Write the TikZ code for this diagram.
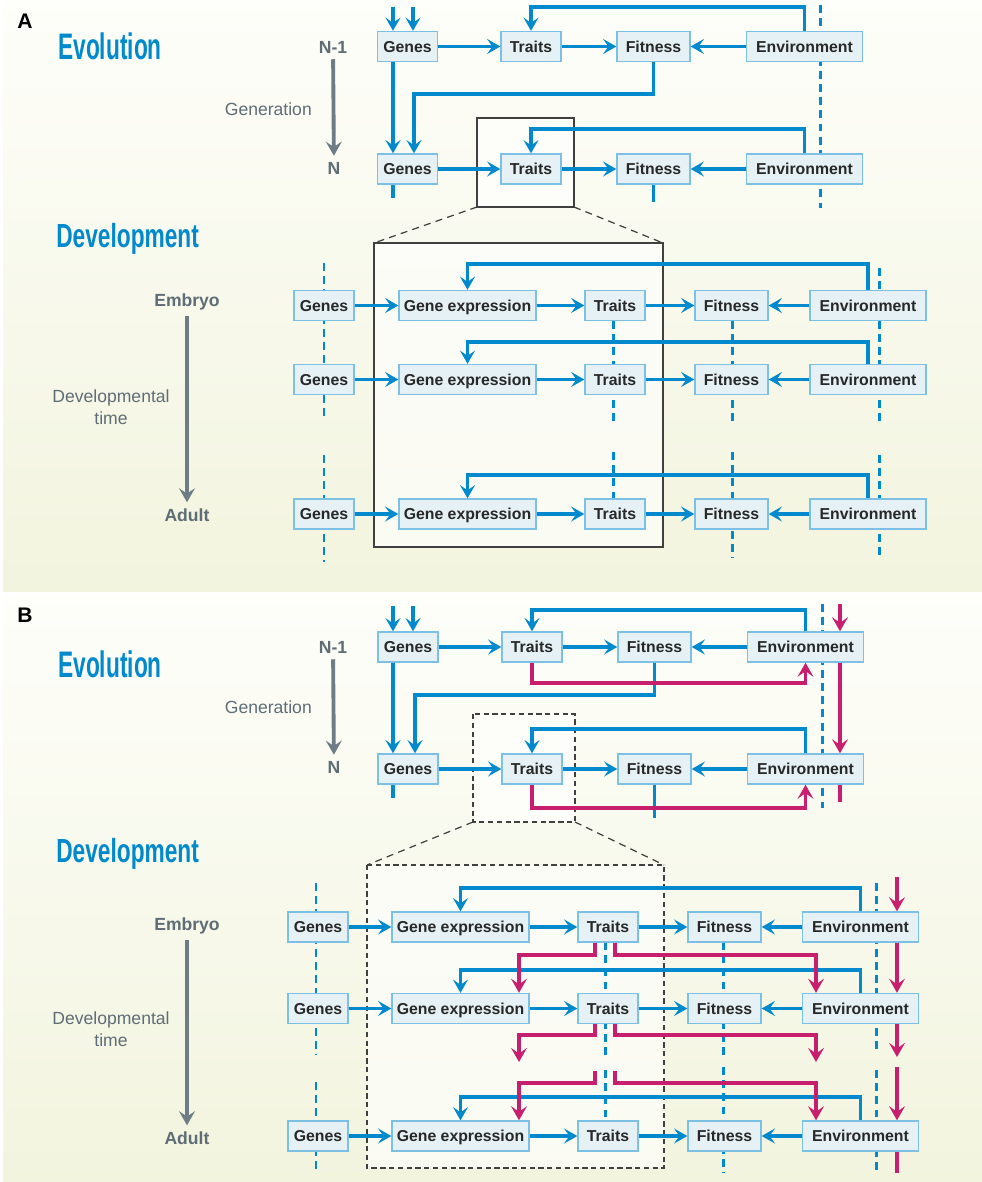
\documentclass[tikz,border=0pt]{standalone}
\usepackage{fontspec}
\setmainfont{Liberation Sans}
\usetikzlibrary{arrows.meta}

\definecolor{flowblue}{RGB}{0,137,204}
\definecolor{boxfill}{RGB}{229,241,244}
\definecolor{boxedge}{RGB}{125,192,230}
\definecolor{boxtext}{RGB}{40,40,40}
\definecolor{plasticred}{RGB}{200,30,110}
\definecolor{timegray}{RGB}{110,124,133}
\definecolor{labelgray}{RGB}{95,109,118}
\definecolor{bgtop}{RGB}{254,254,250}
\definecolor{bgbottom}{RGB}{242,244,222}

\tikzset{box/.style={draw=boxedge,fill=boxfill,line width=0.8pt,font=\bfseries\fontsize{9}{11}\selectfont,text=boxtext,minimum height=0.6cm,inner sep=0pt,text height=6.5pt,text depth=0pt},
genes/.style={box,minimum width=1.2cm},
traits/.style={box,minimum width=1.2cm},
fitness/.style={box,minimum width=1.46cm},
environment/.style={box,minimum width=2.32cm},
expression/.style={box,minimum width=2.74cm},
link/.style={draw=flowblue,line width=1.8pt},
flow/.style={link,-{Stealth[length=7.5pt,width=8.5pt,inset=3pt]}},
lineage/.style={draw=flowblue,line width=1.7pt,dash pattern=on 4.5pt off 3pt},
plastic link/.style={draw=plasticred,line width=1.8pt},
plastic/.style={plastic link,-{Stealth[length=8pt,width=9pt,inset=3.2pt]}},
time arrow/.style={draw=timegray,line width=2.2pt,-{Stealth[length=8pt,width=9pt,inset=3pt]}},
panel letter/.style={font=\bfseries\fontsize{12}{14}\selectfont,inner sep=0pt},
evo title/.style={font=\bfseries\fontsize{21}{24}\selectfont,text=flowblue,anchor=base west,inner sep=0pt},
dev title/.style={font=\bfseries\fontsize{19}{22}\selectfont,text=flowblue,anchor=base west,inner sep=0pt},
axis label/.style={font=\bfseries\fontsize{10}{12}\selectfont,text=labelgray},
axis name/.style={font=\fontsize{10}{12.5}\selectfont,text=labelgray,align=center},
zoom frame/.style={draw=black!75,line width=0.7pt,fill=white,fill opacity=0.6},
zoom ray/.style={draw=black!75,line width=0.7pt,dash pattern=on 4pt off 3pt}}

\begin{document}
\begin{tikzpicture}[x=0.02cm,y=-0.02cm]
\useasboundingbox (0,0) rectangle (982,1182);

%% panel backgrounds
\shade[top color=bgtop,bottom color=bgbottom] (3,0) rectangle (982,591);
\shade[top color=bgtop,bottom color=bgbottom] (3,595) rectangle (982,1182);

%% zoom frames
\path[zoom frame] (477,118) rectangle (574,207);
\path[zoom frame] (374,243) rectangle (663,547);
\draw[zoom ray] (477,207) -- (374,243);
\draw[zoom ray] (574,207) -- (663,243);
\path[zoom frame,dash pattern=on 3pt off 2pt] (473,714) rectangle (575,822);
\path[zoom frame,dash pattern=on 3pt off 2pt] (367,865) rectangle (664,1168);
\draw[zoom ray] (473,822) -- (367,865);
\draw[zoom ray] (575,822) -- (664,865);

%% ---------------- A ----------------
\node[panel letter] (letA) at (25,21) {A};
\node[evo title] (evoA) at (58,60) {\scalebox{0.615}[1]{Evolution}};
\node[dev title] (devA) at (56,248) {\scalebox{0.68}[1]{Development}};
\node[axis label] (prevA) at (333,47) {N-1};
\node[axis label] (genNA) at (334,168) {N};
\node[axis name,anchor=east] (genlabA) at (318,109) {Generation};
\draw[time arrow] (prevA) -- (genNA);
\node[axis label] (embA) at (187,302) {Embryo};
\node[axis label] (adA) at (187,515) {Adult};
\node[axis name] (dtA) at (111,407) {Developmental\\time};
\draw[time arrow] (embA) -- (adA);

%% coordinates (A, evolution)
\coordinate (inLA) at (393,7);
\coordinate (inRA) at (413,7);
\coordinate (topA1) at (0,7);
\coordinate (topA2) at (0,129);
\coordinate (backA) at (414,94);
\coordinate (stubgA) at (393,198);
\coordinate (stubfA) at (0,202);
\coordinate (envlnA1) at (820,5);
\coordinate (envlnA2) at (820,208);

%% coordinates (A, development)
\coordinate (topD1) at (0,264);
\coordinate (topD2) at (0,342);
\coordinate (topD3) at (0,475);

%% lineage lines
\draw[lineage] (envlnA1) -- (envlnA2);
\draw[lineage] (324,263) -- (324,417);
\draw[lineage] (324,455) -- (324,562);
\draw[lineage] (613,321) -- (613,423);
\draw[lineage] (613,452) -- (613,498);
\draw[lineage] (732,321) -- (732,423);
\draw[lineage] (732,452) -- (732,558);
\draw[lineage] (879,268) -- (879,423);
\draw[lineage] (879,455) -- (879,560);

%% boxes (A, evolution)
\node[genes] (gA1) at (407.5,46.5) {Genes};
\node[traits] (tA1) at (531,46.5) {Traits};
\node[fitness] (fA1) at (653.5,46.5) {Fitness};
\node[environment] (eA1) at (804.5,46.5) {Environment};
\node[genes] (gA2) at (407.5,169) {Genes};
\node[traits] (tA2) at (531,169) {Traits};
\node[fitness] (fA2) at (653.5,169) {Fitness};
\node[environment] (eA2) at (804.5,169) {Environment};

%% boxes (A, development)
\node[genes] (gD1) at (324,305.5) {Genes};
\node[expression] (xD1) at (467.5,305.5) {Gene expression};
\node[traits] (tD1) at (615,305.5) {Traits};
\node[fitness] (fD1) at (731.5,305.5) {Fitness};
\node[environment] (eD1) at (868,305.5) {Environment};
\node[genes] (gD2) at (324,379.5) {Genes};
\node[expression] (xD2) at (467.5,379.5) {Gene expression};
\node[traits] (tD2) at (615,379.5) {Traits};
\node[fitness] (fD2) at (731.5,379.5) {Fitness};
\node[environment] (eD2) at (868,379.5) {Environment};
\node[genes] (gD3) at (324,514) {Genes};
\node[expression] (xD3) at (467.5,514) {Gene expression};
\node[traits] (tD3) at (615,514) {Traits};
\node[fitness] (fD3) at (731.5,514) {Fitness};
\node[environment] (eD3) at (868,514) {Environment};

%% arrows (A, evolution)
\draw[flow] (inLA) -- (inLA |- gA1.north);
\draw[flow] (inRA) -- (inRA |- gA1.north);
\draw[flow] (gA1) -- (tA1);
\draw[flow] (tA1) -- (fA1);
\draw[flow] (eA1) -- (fA1);
\draw[flow] (eA1.north) |- (tA1.north |- topA1) -- (tA1.north);
\draw[flow] (fA1.south) |- (backA) -- (backA |- gA2.north);
\draw[flow] (gA1.south -| inLA) -- (inLA |- gA2.north);
\draw[flow] (gA2) -- (tA2);
\draw[flow] (tA2) -- (fA2);
\draw[flow] (eA2) -- (fA2);
\draw[flow] (eA2.north) |- (tA2.north |- topA2) -- (tA2.north);
\draw[link] (gA2.south -| stubgA) -- (stubgA);
\draw[link] (fA2.south) -- (fA2.south |- stubfA);

%% arrows (A, development)
\draw[flow] (gD1) -- (xD1);
\draw[flow] (xD1) -- (tD1);
\draw[flow] (tD1) -- (fD1);
\draw[flow] (eD1) -- (fD1);
\draw[flow] (eD1.north) |- (xD1.north |- topD1) -- (xD1.north);
\draw[flow] (gD2) -- (xD2);
\draw[flow] (xD2) -- (tD2);
\draw[flow] (tD2) -- (fD2);
\draw[flow] (eD2) -- (fD2);
\draw[flow] (eD2.north) |- (xD2.north |- topD2) -- (xD2.north);
\draw[flow] (gD3) -- (xD3);
\draw[flow] (xD3) -- (tD3);
\draw[flow] (tD3) -- (fD3);
\draw[flow] (eD3) -- (fD3);
\draw[flow] (eD3.north) |- (xD3.north |- topD3) -- (xD3.north);

%% ---------------- B ----------------
\node[panel letter] (letB) at (25,615) {B};
\node[evo title] (evoB) at (58,677) {\scalebox{0.615}[1]{Evolution}};
\node[dev title] (devB) at (56,862) {\scalebox{0.68}[1]{Development}};
\node[axis label] (prevB) at (333,647) {N-1};
\node[axis label] (genNB) at (334,767) {N};
\node[axis name,anchor=east] (genlabB) at (318,707) {Generation};
\draw[time arrow] (prevB) -- (genNB);
\node[axis label] (embB) at (187,926) {Embryo};
\node[axis label] (adB) at (187,1138) {Adult};
\node[axis name] (dtB) at (111,1029) {Developmental\\time};
\draw[time arrow] (embB) -- (adB);

%% coordinates (B, evolution)
\coordinate (inLB) at (393,606);
\coordinate (inRB) at (413,606);
\coordinate (topB1) at (0,610);
\coordinate (topB2) at (0,729);
\coordinate (backB) at (415,695);
\coordinate (stubgB) at (393,798);
\coordinate (stubfB) at (0,818);
\coordinate (plB1) at (0,683);
\coordinate (plB2) at (0,808);
\coordinate (envmB) at (840,604);
\coordinate (envmBend) at (840,802);
\coordinate (envlnB1) at (822,604);
\coordinate (envlnB2) at (822,808);

%% coordinates (B, development)
\coordinate (topE1) at (0,888);
\coordinate (topE2) at (0,970);
\coordinate (topE3) at (0,1097);
\coordinate (colL) at (595,0);
\coordinate (colR) at (615,0);
\coordinate (colX) at (519,0);
\coordinate (colE) at (816,0);
\coordinate (midE12) at (0,955);
\coordinate (midE23) at (0,1035);
\coordinate (endE2) at (0,1062);
\coordinate (startE3) at (0,1071);
\coordinate (midE34) at (0,1083);
\coordinate (envmE) at (897,877);
\coordinate (envmEend) at (897,1057);
\coordinate (envmEstart) at (897,1067);
\coordinate (envmEbot) at (897,1173);

%% lineage lines
\draw[lineage] (envlnB1) -- (envlnB2);
\draw[lineage] (316,883) -- (316,1055);
\draw[lineage] (316,1082) -- (316,1172);
\draw[lineage] (605,942) -- (605,1060);
\draw[lineage] (605,1070) -- (605,1121);
\draw[lineage] (723,942) -- (723,1057);
\draw[lineage] (723,1067) -- (723,1173);
\draw[lineage] (876,883) -- (876,1053);
\draw[lineage] (876,1070) -- (876,1172);

%% boxes (B, evolution)
\node[genes] (gB1) at (408,647) {Genes};
\node[traits] (tB1) at (532,647) {Traits};
\node[fitness] (fB1) at (654.5,647) {Fitness};
\node[environment] (eB1) at (805.5,647) {Environment};
\node[genes] (gB2) at (408,769) {Genes};
\node[traits] (tB2) at (532,769) {Traits};
\node[fitness] (fB2) at (654.5,769) {Fitness};
\node[environment] (eB2) at (805.5,769) {Environment};

%% boxes (B, development)
\node[genes] (gE1) at (318,927) {Genes};
\node[expression] (xE1) at (460.5,927) {Gene expression};
\node[traits] (tE1) at (608,927) {Traits};
\node[fitness] (fE1) at (724.5,927) {Fitness};
\node[environment] (eE1) at (860.5,927) {Environment};
\node[genes] (gE2) at (318,1008.5) {Genes};
\node[expression] (xE2) at (460.5,1008.5) {Gene expression};
\node[traits] (tE2) at (608,1008.5) {Traits};
\node[fitness] (fE2) at (724.5,1008.5) {Fitness};
\node[environment] (eE2) at (860.5,1008.5) {Environment};
\node[genes] (gE3) at (318,1136) {Genes};
\node[expression] (xE3) at (460.5,1136) {Gene expression};
\node[traits] (tE3) at (608,1136) {Traits};
\node[fitness] (fE3) at (724.5,1136) {Fitness};
\node[environment] (eE3) at (860.5,1136) {Environment};

%% arrows (B, evolution)
\draw[flow] (inLB) -- (inLB |- gB1.north);
\draw[flow] (inRB) -- (inRB |- gB1.north);
\draw[flow] (gB1) -- (tB1);
\draw[flow] (tB1) -- (fB1);
\draw[flow] (eB1) -- (fB1);
\draw[flow] (eB1.north) |- (tB1.north |- topB1) -- (tB1.north);
\draw[flow] (fB1.south) |- (backB) -- (backB |- gB2.north);
\draw[flow] (gB1.south -| inLB) -- (inLB |- gB2.north);
\draw[flow] (gB2) -- (tB2);
\draw[flow] (tB2) -- (fB2);
\draw[flow] (eB2) -- (fB2);
\draw[flow] (eB2.north) |- (tB2.north |- topB2) -- (tB2.north);
\draw[link] (gB2.south -| stubgB) -- (stubgB);
\draw[link] (fB2.south) -- (fB2.south |- stubfB);
\draw[plastic] (tB1.south) |- (eB1.south |- plB1) -- (eB1.south);
\draw[plastic] (tB2.south) |- (eB2.south |- plB2) -- (eB2.south);
\draw[plastic] (envmB) -- (envmB |- eB1.north);
\draw[plastic] (eB1.south -| envmB) -- (envmB |- eB2.north);
\draw[plastic link] (eB2.south -| envmB) -- (envmBend);

%% arrows (B, development)
\draw[flow] (gE1) -- (xE1);
\draw[flow] (xE1) -- (tE1);
\draw[flow] (tE1) -- (fE1);
\draw[flow] (eE1) -- (fE1);
\draw[flow] (eE1.north) |- (xE1.north |- topE1) -- (xE1.north);
\draw[flow] (gE2) -- (xE2);
\draw[flow] (xE2) -- (tE2);
\draw[flow] (tE2) -- (fE2);
\draw[flow] (eE2) -- (fE2);
\draw[flow] (eE2.north) |- (xE2.north |- topE2) -- (xE2.north);
\draw[flow] (gE3) -- (xE3);
\draw[flow] (xE3) -- (tE3);
\draw[flow] (tE3) -- (fE3);
\draw[flow] (eE3) -- (fE3);
\draw[flow] (eE3.north) |- (xE3.north |- topE3) -- (xE3.north);

%% plasticity arrows (B, development)
\draw[plastic] (tE1.south -| colL) |- (colX |- midE12) -- (colX |- xE2.north);
\draw[plastic] (tE1.south -| colR) |- (colE |- midE12) -- (colE |- eE2.north);
\draw[plastic] (tE2.south -| colL) |- (colX |- midE23) -- (colX |- endE2);
\draw[plastic] (tE2.south -| colR) |- (colE |- midE23) -- (colE |- endE2);
\draw[plastic] (colL |- startE3) |- (colX |- midE34) -- (colX |- xE3.north);
\draw[plastic] (colR |- startE3) |- (colE |- midE34) -- (colE |- eE3.north);
\draw[plastic] (envmE) -- (envmE |- eE1.north);
\draw[plastic] (eE1.south -| envmE) -- (envmE |- eE2.north);
\draw[plastic] (eE2.south -| envmE) -- (envmEend);
\draw[plastic] (envmEstart) -- (envmEstart |- eE3.north);
\draw[plastic link] (eE3.south -| envmE) -- (envmEbot);

\end{tikzpicture}
\end{document}
